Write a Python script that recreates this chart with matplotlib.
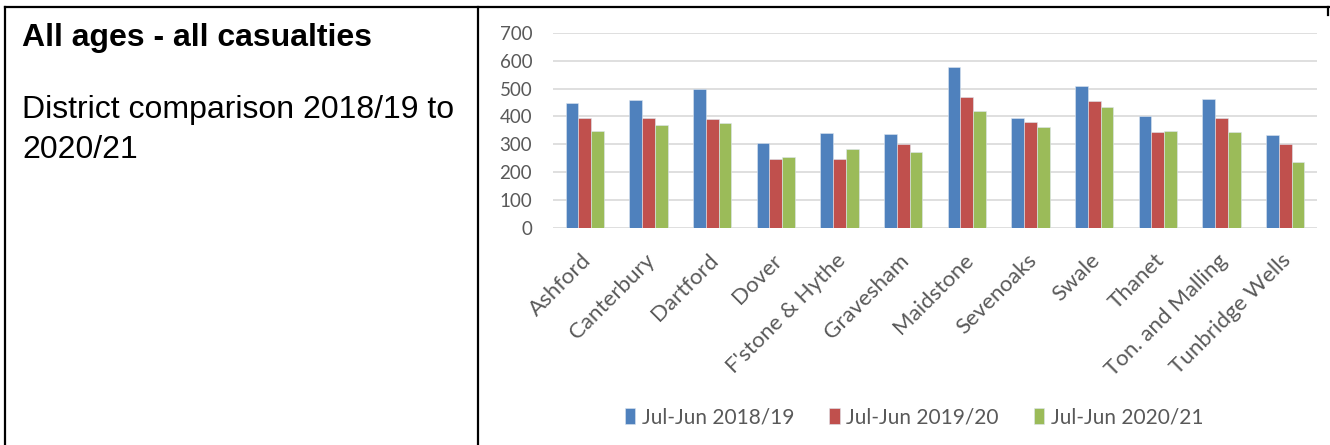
import matplotlib.pyplot as plt
import matplotlib.transforms as mtransforms
import numpy as np
from matplotlib.lines import Line2D

districts = ["Ashford", "Canterbury", "Dartford", "Dover", "F'stone & Hythe", "Gravesham",
             "Maidstone", "Sevenoaks", "Swale", "Thanet", "Ton. and Malling", "Tunbridge Wells"]
y2018 = [448, 459, 497, 303, 342, 337, 576, 395, 508, 401, 463, 332]
y2019 = [395, 395, 391, 248, 248, 302, 468, 381, 454, 343, 395, 302]
y2020 = [346, 370, 375, 254, 283, 274, 419, 362, 434, 346, 343, 235]
series = ["Jul-Jun 2018/19", "Jul-Jun 2019/20", "Jul-Jun 2020/21"]
colors = ["#4F81BD", "#C0504D", "#9BBB59"]

W, H = 1330, 445
fig = plt.figure(figsize=(W / 100, H / 100), dpi=100)

# table borders
def px_line(x0, y0, x1, y1):
    fig.add_artist(Line2D([x0 / W, x1 / W], [1 - y0 / H, 1 - y1 / H],
                          transform=fig.transFigure, color="black", lw=1.6))

px_line(5, 7, 1329, 7)
px_line(5, 7, 5, 445)
px_line(478, 7, 478, 445)
px_line(1328, 7, 1328, 15)

fig.text(22 / W, 1 - 46 / H, "All ages - all casualties", fontsize=23,
         fontweight="bold", family="Liberation Sans", va="baseline")
fig.text(22 / W, 1 - 118 / H, "District comparison 2018/19 to", fontsize=23,
         family="Liberation Sans", va="baseline")
fig.text(22 / W, 1 - 158 / H, "2020/21", fontsize=23,
         family="Liberation Sans", va="baseline")

ax = fig.add_axes([553 / W, 1 - 228 / H, 764 / W, (228 - 32.7) / H])
x = np.arange(len(districts))
bw = 0.2
for i, (vals, c, lab) in enumerate(zip([y2018, y2019, y2020], colors, series)):
    ax.bar(x + (i - 1) * bw, vals, bw, color=c, label=lab,
           edgecolor="#dde6f0", linewidth=0.4, zorder=3)

ax.set_xlim(-0.5, len(districts) - 0.5)
ax.set_ylim(0, 700)
ax.set_yticks(range(0, 701, 100))
ax.yaxis.grid(True, color="#d9d9d9", lw=1.2, zorder=0)
for s in ax.spines.values():
    s.set_visible(False)
ax.tick_params(length=0, labelsize=13.5, labelcolor="#595959")
ax.tick_params(axis="y", pad=15)
ax.tick_params(axis="x", pad=16)
for lbl in ax.get_yticklabels():
    lbl.set_family("Lato")
ax.set_xticks(x)
ax.set_xticklabels(districts, rotation=45, ha="right", rotation_mode="anchor",
                   family="Lato", fontsize=16, color="#595959")
shift = mtransforms.ScaledTranslation(-4 / 100, 0, fig.dpi_scale_trans)
for lbl in ax.get_xticklabels():
    lbl.set_transform(lbl.get_transform() + shift)

leg = fig.legend(loc="center", bbox_to_anchor=(914 / W, 1 - 417 / H), ncol=3,
                 frameon=False, handlelength=0.5, handleheight=0.8,
                 handletextpad=0.3, columnspacing=1.7,
                 prop={"family": "Lato", "size": 15})
for t in leg.get_texts():
    t.set_color("#595959")

fig.savefig("out.png", dpi=100)
